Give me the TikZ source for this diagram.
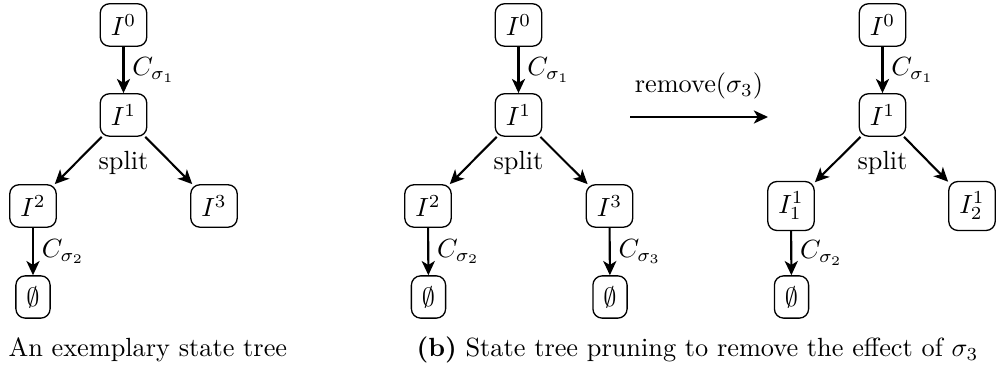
\documentclass[tikz,border=0pt]{standalone}
\usetikzlibrary{arrows.meta}
\begin{document}
\begin{tikzpicture}[x=0.3802pt,y=-0.3802pt,
  st/.style={draw, rounded corners=3.5pt, inner sep=4pt, line width=0.5pt},
  arr/.style={-{Stealth[length=5.4pt,width=5pt,inset=1.5pt]}, line width=0.8pt},
  lab/.style={right, inner sep=3pt}]
\useasboundingbox (0,0) rectangle (996,383);
% ---- left tree
\node[st] (a0) at (123.5,25) {$I^0$};
\node[st] (a1) at (123.5,115) {$I^1$};
\node[st] (a2) at (33,206) {$I^2$};
\node[st] (a3) at (214,206) {$I^3$};
\node[st] (ae) at (33,297) {$\emptyset$};
\node (as) at (123.5,163) {split};
\draw[arr] (a0) -- node[lab] (al1) {$C_{\sigma_1}$} (a1);
\draw[arr] (a1) -- (a2);
\draw[arr] (a1) -- (a3);
\draw[arr] (a2) -- node[lab] (al2) {$C_{\sigma_2}$} (ae);
% ---- middle tree
\node[st] (b0) at (518.5,25) {$I^0$};
\node[st] (b1) at (518.5,115) {$I^1$};
\node[st] (b2) at (428,206) {$I^2$};
\node[st] (b3) at (609.5,206) {$I^3$};
\node[st] (be1) at (428.5,297) {$\emptyset$};
\node[st] (be2) at (610,297) {$\emptyset$};
\node (bs) at (518.5,163) {split};
\draw[arr] (b0) -- node[lab] (bl1) {$C_{\sigma_1}$} (b1);
\draw[arr] (b1) -- (b2);
\draw[arr] (b1) -- (b3);
\draw[arr] (b2) -- node[lab] (bl2) {$C_{\sigma_2}$} (be1);
\draw[arr] (b3) -- node[lab] (bl3) {$C_{\sigma_3}$} (be2);
% ---- remove arrow
\coordinate (ra) at (630,117);
\coordinate (rb) at (768,117);
\draw[arr] (ra) -- node[above, yshift=3pt] (rl) {remove$(\sigma_3)$} (rb);
% ---- right tree
\node[st] (c0) at (882.5,25) {$I^0$};
\node[st] (c1) at (882.5,115) {$I^1$};
\node[st] (c2) at (791,206) {$I^1_1$};
\node[st] (c3) at (972,206) {$I^1_2$};
\node[st] (ce) at (791.5,297) {$\emptyset$};
\node (cs) at (882.5,163) {split};
\draw[arr] (c0) -- node[lab] (cl1) {$C_{\sigma_1}$} (c1);
\draw[arr] (c1) -- (c2);
\draw[arr] (c1) -- (c3);
\draw[arr] (c2) -- node[lab] (cl2) {$C_{\sigma_2}$} (ce);
% ---- captions
\node[anchor=base west, inner sep=0pt] (capa) at (8,357) {An exemplary state tree};
\node[anchor=base west, inner sep=0pt] (capb) at (416,357) {\textbf{(b)} State tree pruning to remove the effect of $\sigma_3$};
\end{tikzpicture}
\end{document}
